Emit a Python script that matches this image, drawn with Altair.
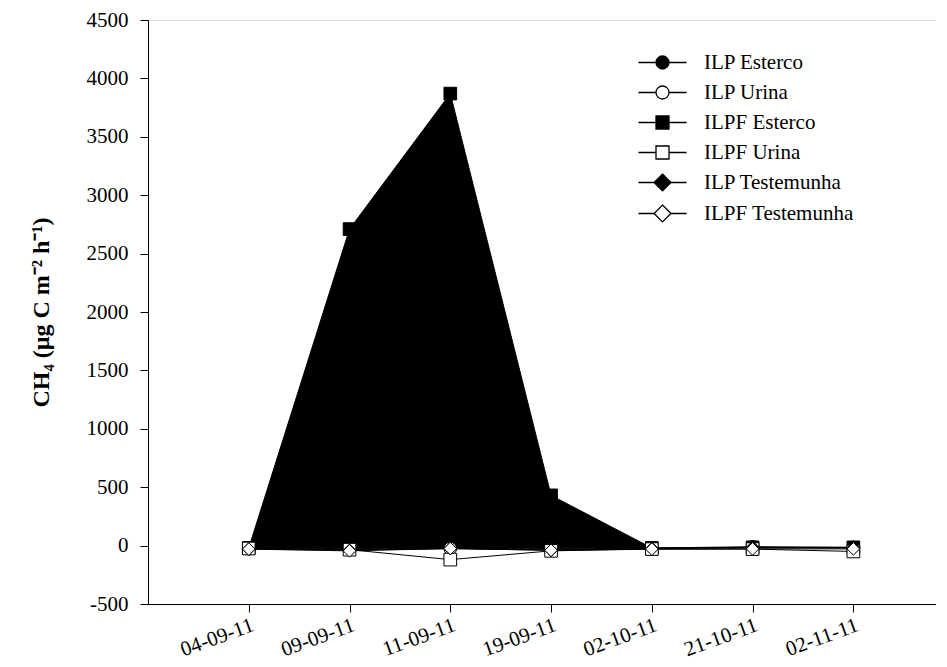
import altair as alt
import pandas as pd

dates = ["04-09-11", "09-09-11", "11-09-11", "19-09-11", "02-10-11", "21-10-11", "02-11-11"]
series = ["ILP Esterco", "ILP Urina", "ILPF Esterco", "ILPF Urina", "ILP Testemunha", "ILPF Testemunha"]
ilp_esterco = [-25, -30, -20, -30, -20, -10, -15]
ilp_urina = [-25, -35, -25, -35, -25, -20, -20]
ilpf_esterco = [-20, 2710, 3870, 430, -20, -15, -15]
ilpf_urina = [-25, -35, -120, -45, -30, -30, -50]
ilp_testemunha = [-30, -40, -25, -40, -25, -15, -20]
ilpf_testemunha = [-30, -45, -25, -40, -30, -28, -28]

values = [ilp_esterco, ilp_urina, ilpf_esterco, ilpf_urina, ilp_testemunha, ilpf_testemunha]
fills = ["black", "white", "black", "white", "black", "white"]
shapes = ["circle", "circle", "square", "square", "diamond", "diamond"]
sizes = [160, 160, 160, 160, 230, 230]

legend_paths = [
    "M-3.7,0H-1M1,0H3.7M-1,0A1,1 0 1,1 1,0A1,1 0 1,1 -1,0Z",
    "M-3.7,0H-1M1,0H3.7M-1,0A1,1 0 1,1 1,0A1,1 0 1,1 -1,0Z",
    "M-3.7,0H-1M1,0H3.7M-1,-1H1V1H-1Z",
    "M-3.7,0H-1M1,0H3.7M-1,-1H1V1H-1Z",
    "M-3.7,0H-1.3M1.3,0H3.7M0,-1.3L1.3,0L0,1.3L-1.3,0Z",
    "M-3.7,0H-1.3M1.3,0H3.7M0,-1.3L1.3,0L0,1.3L-1.3,0Z",
]

rows = []
for i, d in enumerate(dates):
    for s, vals in zip(series, values):
        rows.append({"idx": i, "date": d, "series": s, "value": vals[i]})
df = pd.DataFrame(rows)

area_df = pd.DataFrame({"idx": list(range(len(dates))), "top": ilpf_esterco, "bottom": ilp_esterco})

label_expr = "[" + ",".join("'" + d + "'" for d in dates) + "][datum.value]"

FONT = "Liberation Serif"
FS = 21
x_scale = alt.Scale(domain=[-1, 6.82], nice=False, zero=False)

x_enc = alt.X(
    "idx:Q",
    scale=x_scale,
    axis=alt.Axis(
        values=list(range(len(dates))),
        labelExpr=label_expr,
        title=None,
        labelAngle=-20,
        labelAlign="right",
        labelBaseline="top",
        labelFont=FONT,
        labelFontSize=FS,
        labelColor="black",
        tickSize=8,
        tickColor="black",
        domainColor="black",
        grid=False,
        labelPadding=2,
    ),
)

y_scale = alt.Scale(domain=[-500, 4500], nice=False, zero=False)
y_enc = alt.Y(
    "value:Q",
    scale=y_scale,
    axis=alt.Axis(
        values=list(range(-500, 4501, 500)),
        labelExpr="'' + datum.value",
        title="CH₄ (µg C m⁻² h⁻¹)",
        titleFont=FONT,
        titleFontSize=24,
        titleFontWeight="bold",
        titleColor="black",
        titlePadding=33,
        labelFont=FONT,
        labelFontSize=FS,
        labelColor="black",
        labelPadding=12,
        tickSize=8,
        tickColor="black",
        domainColor="black",
        grid=False,
    ),
)

area = alt.Chart(area_df).mark_area(color="black", opacity=1, line=False).encode(
    x=alt.X("idx:Q", scale=x_scale),
    y=alt.Y("top:Q", scale=y_scale),
    y2="bottom:Q",
)

lines = alt.Chart(df).mark_line(color="black", strokeWidth=1).encode(
    x=x_enc,
    y=y_enc,
    detail="series:N",
)

points = alt.Chart(df).mark_point(filled=True, stroke="black", strokeWidth=1, opacity=1).encode(
    x="idx:Q",
    y="value:Q",
    shape=alt.Shape("series:N", scale=alt.Scale(domain=series, range=shapes), legend=None),
    fill=alt.Fill("series:N", scale=alt.Scale(domain=series, range=fills), legend=None),
    size=alt.Size("series:N", scale=alt.Scale(domain=series, range=sizes), legend=None),
)

leg = dict(
    title=None,
    orient="none",
    legendX=504,
    legendY=32,
    labelFont=FONT,
    labelFontSize=FS,
    labelColor="black",
    symbolSize=169,
    symbolStrokeWidth=1.3,
    symbolStrokeColor="black",
    labelOffset=31,
    rowPadding=8,
)

legend_layer = alt.Chart(df).transform_filter("datum.idx < 0").mark_point(
    filled=False, strokeWidth=1.3, opacity=1
).encode(
    x="idx:Q",
    y="value:Q",
    shape=alt.Shape("series:N", scale=alt.Scale(domain=series, range=legend_paths), legend=alt.Legend(**leg)),
    fill=alt.Fill("series:N", scale=alt.Scale(domain=series, range=fills), legend=alt.Legend(**leg)),
    stroke=alt.Stroke("series:N", scale=alt.Scale(domain=series, range=["black"] * 6), legend=alt.Legend(**leg)),
)

chart = (
    alt.layer(area, lines, points, legend_layer)
    .resolve_scale(shape="independent", fill="independent", size="independent", stroke="independent")
    .resolve_legend(shape="independent", fill="independent", size="independent", stroke="independent")
    .properties(width=788, height=584, padding={"left": 21, "top": 1, "right": 0, "bottom": 0})
    .configure_view(stroke=None)
    .configure(background="white")
)

chart.save("out.html", embed_options={"renderer": "svg", "actions": False})
